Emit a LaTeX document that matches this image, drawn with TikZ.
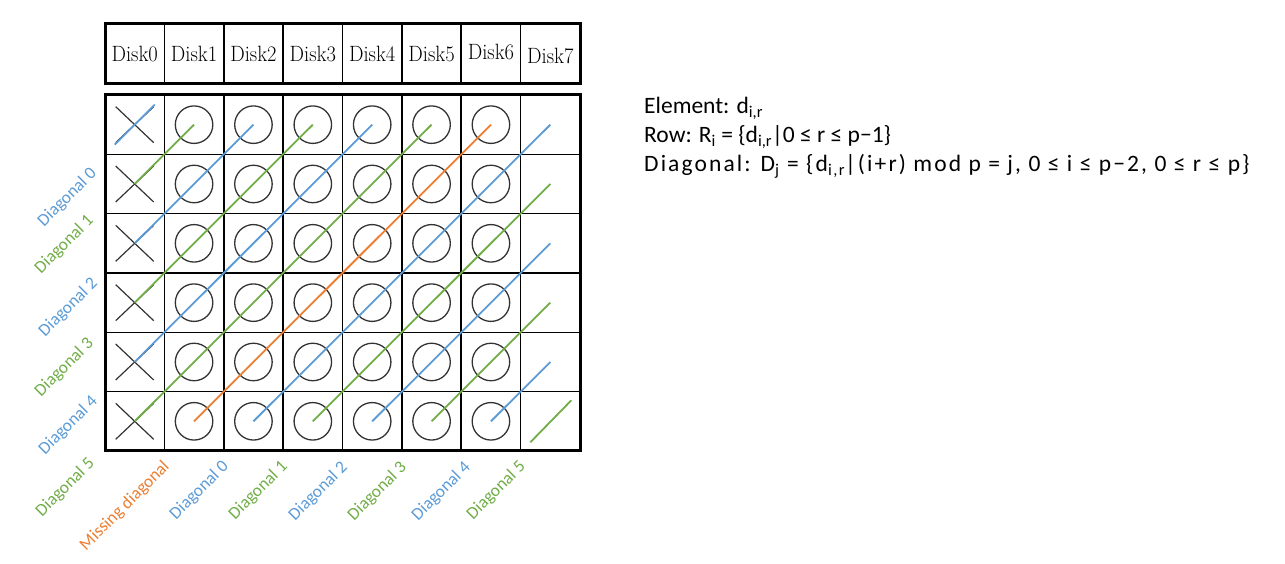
\documentclass[tikz,border=0pt]{standalone}
\usepackage{fontspec}
\newfontfamily\calib{Carlito}
\newfontfamily\calibwide{Carlito}[LetterSpace=9]
\usetikzlibrary{calc}
\definecolor{dblue}{HTML}{5B9BD5}
\definecolor{dgreen}{HTML}{70AD47}
\definecolor{dorange}{HTML}{ED7D31}
\definecolor{ink}{HTML}{333333}
\begin{document}
\begin{tikzpicture}[x=1pt,y=-1pt,
  cell/.style={draw=black, line width=1.6pt, minimum width=59.375pt, minimum height=59.33pt, inner sep=0pt, outer sep=0pt},
  hdr/.style={cell},
  hdrtext/.style={font=\fontsize{20.5}{22}\selectfont, inner sep=0pt},
  disc/.style={circle, draw=ink, line width=1.3pt, minimum size=37.5pt, inner sep=0pt},
  cross/.style={draw=ink, line width=1.2pt},
  diag/.style={line width=1.8pt},
  border/.style={draw=black, line width=3pt},
  lbl/.style={font=\calib\fontsize{17.5}{19}\selectfont, rotate=45, anchor=east, inner sep=0pt},
  info/.style={font=\calib\fontsize{23.5}{28}\selectfont, inner sep=0pt},
  infowide/.style={font=\calibwide\fontsize{23.5}{28}\selectfont, inner sep=0pt}]
\useasboundingbox (0,0) rectangle (1285,564);
% header and grid
\foreach \c in {0,...,7} {
  \node[hdr] (h\c) at ({105+59.375*(\c+0.5)}, 53.5) {};
  \foreach \r in {0,...,5} {
    \node[cell] (g\c-\r) at ({105+59.375*(\c+0.5)}, {95+59.33*(\r+0.5)}) {};
  }
}
\foreach \c/\dy in {0/0,1/0,2/0,3/0,4/0,5/0,6/-1.5,7/2} {
  \node[hdrtext] (ht\c) at ($(h\c.center)+(0,\dy)$) {\scalebox{1}[1.08]{Disk\c}};
}
\draw[border] (h0.north west) rectangle (h7.south east);
\draw[border] (g0-0.north west) rectangle (g7-5.south east);
% circles
\foreach \c in {1,...,6} {
  \foreach \r in {0,...,5} {
    \node[disc] (o\c-\r) at (g\c-\r.center) {};
  }
}
% crosses in column 0
\foreach \r in {0,...,5} {
  \draw[cross] ($(g0-\r.center)+(-19,-18)$) -- ($(g0-\r.center)+(19,18)$);
  \draw[cross] ($(g0-\r.center)+(-19,18)$) -- ($(g0-\r.center)+(19,-18)$);
}
% diagonals
\draw[diag, dblue] ($(g0-0.center)+(-20,20)$) -- ($(g0-0.center)+(20,-20)$);
\draw[diag, dgreen] (g0-1.center) -- (g1-0.center);
\draw[diag, dblue] (g0-2.center) -- (g2-0.center);
\draw[diag, dgreen] (g0-3.center) -- (g3-0.center);
\draw[diag, dblue] (g0-4.center) -- (g4-0.center);
\draw[diag, dgreen] (g0-5.center) -- (g5-0.center);
\draw[diag, dorange] (g1-5.center) -- (g6-0.center);
\draw[diag, dblue] (g2-5.center) -- (g7-0.center);
\draw[diag, dgreen] (g3-5.center) -- (g7-1.center);
\draw[diag, dblue] (g4-5.center) -- (g7-2.center);
\draw[diag, dgreen] (g5-5.center) -- (g7-3.center);
\draw[diag, dblue] (g6-5.center) -- (g7-4.center);
\draw[diag, dgreen] ($(g7-5.center)+(-20,21)$) -- ($(g7-5.center)+(21,-21)$);
% left labels
\node[lbl, dblue] (l0) at (94,171) {Diagonal 0};
\node[lbl, dgreen] (l1) at (91,218) {Diagonal 1};
\node[lbl, dblue] (l2) at (95,281) {Diagonal 2};
\node[lbl, dgreen] (l3) at (91,341) {Diagonal 3};
\node[lbl, dblue] (l4) at (95,399) {Diagonal 4};
\node[lbl, dgreen] (l5) at (92,461) {Diagonal 5};
% bottom labels
\node[lbl, dorange] (bm) at (167,464) {Missing diagonal};
\node[lbl, dblue] (b0) at (226,464) {Diagonal 0};
\node[lbl, dgreen] (b1) at (285,464) {Diagonal 1};
\node[lbl, dblue] (b2) at (345,465) {Diagonal 2};
\node[lbl, dgreen] (b3) at (404,465) {Diagonal 3};
\node[lbl, dblue] (b4) at (468,465) {Diagonal 4};
\node[lbl, dgreen] (b5) at (523,464) {Diagonal 5};
% definitions
\node[info, anchor=base west] (t1) at (644,114) {Element: d\textsubscript{i,r}};
\node[info, anchor=base west] (t2) at (644,143) {Row: R\textsubscript{i} = \{d\textsubscript{i,r}|0 ≤ r ≤ p−1\}};
\node[infowide, anchor=base west] (t3) at (644,172) {Diagonal: D\textsubscript{j} = \{d\textsubscript{i,r}|(i+r) mod p = j, 0 ≤ i ≤ p−2, 0 ≤ r ≤ p\}};
\end{tikzpicture}
\end{document}
